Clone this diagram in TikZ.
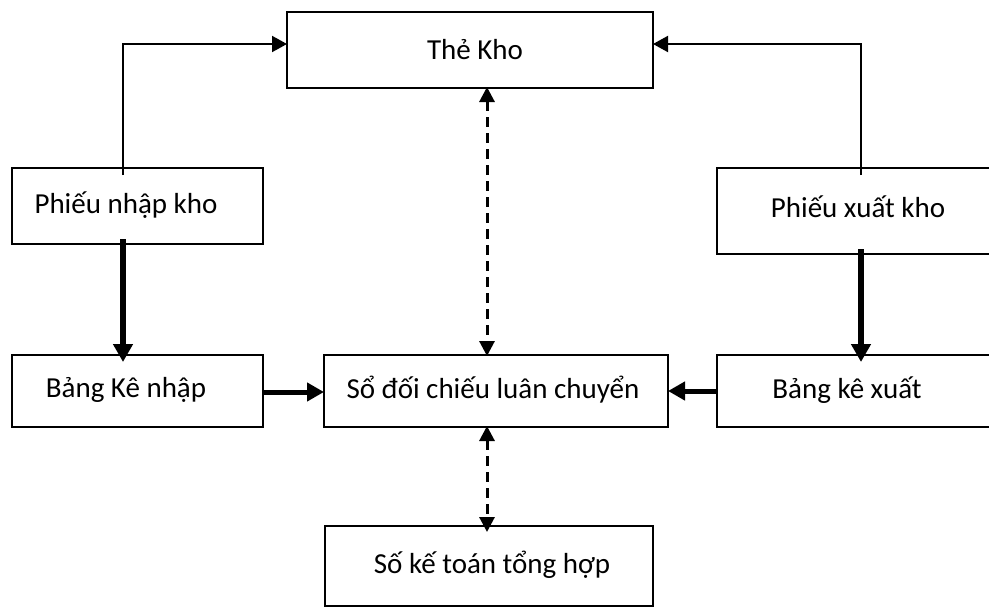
\documentclass[tikz,border=0pt]{standalone}
\usepackage{fontspec}
\setmainfont{Carlito}
\usetikzlibrary{arrows.meta}

\tikzset{
  box/.style={draw, line width=1.5pt, inner sep=0pt, outer sep=0pt, anchor=north west},
  label text/.style={font=\fontsize{29}{34}\selectfont, inner sep=0pt},
  thin link/.style={draw, line width=2pt, -{Triangle[length=15pt, width=16pt]}},
  thick link/.style={draw, line width=6.5pt, -{Triangle[length=18pt, width=19pt]}},
  side link/.style={draw, line width=5pt, -{Triangle[length=17pt, width=18pt]}},
  dashed link/.style={draw, line width=3pt, dash pattern=on 10pt off 6pt,
    {Triangle[length=15pt, width=15pt]}-{Triangle[length=15pt, width=15pt]}},
}

\begin{document}
\begin{tikzpicture}[x=1pt, y=-1pt]
  \useasboundingbox (0,0) rectangle (989,608);

  % boxes
  \node[box, minimum width=366pt, minimum height=76pt] (kho) at (287,12) {};
  \node[box, minimum width=251pt, minimum height=76pt] (pnk) at (12,168) {};
  \node[box, minimum width=280pt, minimum height=86pt] (pxk) at (717,168) {};
  \node[box, minimum width=251pt, minimum height=72pt] (bkn) at (12,355) {};
  \node[box, minimum width=344pt, minimum height=72pt] (sdc) at (324,355) {};
  \node[box, minimum width=280pt, minimum height=72pt] (bkx) at (717,355) {};
  \node[box, minimum width=328pt, minimum height=80pt] (skt) at (325,526) {};

  % texts
  \node[label text] (tkho) at (475,50) {Thẻ Kho};
  \node[label text] (tpnk) at (126,205) {Phiếu nhập kho};
  \node[label text] (tpxk) at (858,207) {Phiếu xuất kho};
  \node[label text] (tbkn) at (126,390) {Bảng Kê nhập};
  \node[label text] (tsdc) at (493,390) {Sổ đối chiếu luân chuyển};
  \node[label text] (tbkx) at (847,390) {Bảng kê xuất};
  \node[label text] (tskt) at (492,565) {Số kế toán tổng hợp};

  % connector end points
  \coordinate (pnkup) at (123,175);
  \coordinate (pxkup) at (861,175);
  \coordinate (khoL) at (287,44);
  \coordinate (khoR) at (653,44);
  \coordinate (pnkdn) at (123,239);
  \coordinate (bkntop) at (123,362);
  \coordinate (pxkdn) at (861,249);
  \coordinate (bkxtop) at (861,362);
  \coordinate (bknR) at (263,392);
  \coordinate (sdcL) at (324,392);
  \coordinate (bkxL) at (717,391);
  \coordinate (sdcR) at (668,391);
  \coordinate (khoB) at (487,87);
  \coordinate (sdcT) at (487,356);
  \coordinate (sdcB) at (487,426);
  \coordinate (sktT) at (487,532);

  % receipts and issues feed the stock card
  \path[thin link] (pnkup) |- (khoL);
  \path[thin link] (pxkup) |- (khoR);

  % receipts and issues feed their lists
  \path[thick link] (pnkdn) -- (bkntop);
  \path[thick link] (pxkdn) -- (bkxtop);

  % lists feed the reconciliation book
  \path[side link] (bknR) -- (sdcL);
  \path[side link] (bkxL) -- (sdcR);

  % cross checks
  \path[dashed link] (khoB) -- (sdcT);
  \path[dashed link] (sdcB) -- (sktT);
\end{tikzpicture}
\end{document}
